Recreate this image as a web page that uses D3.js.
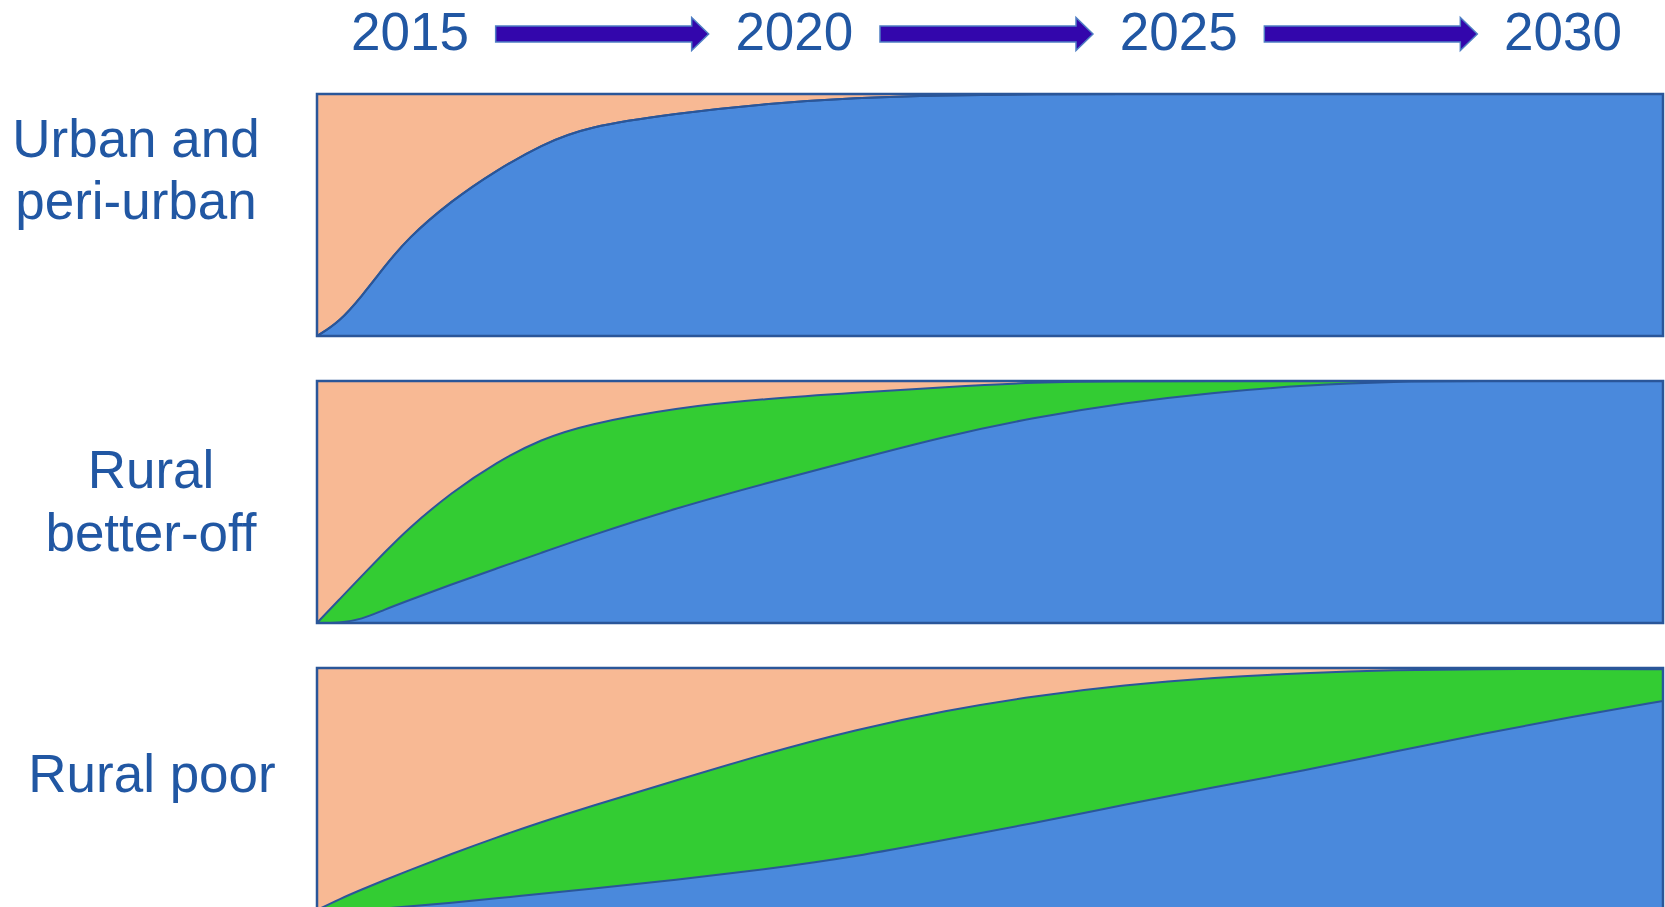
<!DOCTYPE html>
<html>
<head>
<meta charset="utf-8">
<script src="https://cdn.jsdelivr.net/npm/d3@7"></script>
<style>
  html, body { margin: 0; padding: 0; background: #ffffff; }
  svg { display: block; }
</style>
</head>
<body>
<svg id="chart" width="1665" height="907"></svg>
<script>
// ---------------- data ----------------
const categories = ["Urban and peri-urban", "Rural better-off", "Rural poor"];
const categoryLines = [["Urban and", "peri-urban"], ["Rural", "better-off"], ["Rural poor"]];
const yearLabels = ["2015", "2020", "2025", "2030"];

const years = [2015, 2015.25, 2015.5, 2015.75, 2016, 2016.5, 2017, 2017.5, 2018, 2019,
               2020, 2021, 2022, 2023, 2024, 2025, 2026, 2027, 2028, 2029, 2030];

// share of the blue band (bottom)
const urbanBlue = [0, 0.058, 0.165, 0.285, 0.40, 0.56, 0.685, 0.79, 0.865, 0.92,
                   0.96, 0.985, 0.995, 1, 1, 1, 1, 1, 1, 1, 1];
const urbanGreen = [0, 0, 0, 0, 0, 0, 0, 0, 0, 0, 0, 0, 0, 0, 0, 0, 0, 0, 0, 0, 0];

const betterBlue = [0, 0, 0.015, 0.055, 0.09, 0.16, 0.225, 0.29, 0.355, 0.475,
                    0.577, 0.675, 0.772, 0.85, 0.91, 0.953, 0.982, 0.999, 1, 1, 1];
const betterGreen = [0, 0.098, 0.18, 0.235, 0.295, 0.38, 0.44, 0.47, 0.465, 0.415,
                     0.35, 0.277, 0.203, 0.145, 0.09, 0.047, 0.018, 0.001, 0, 0, 0];

const poorBlue = [0, 0, 0, 0.006, 0.014, 0.03, 0.048, 0.067, 0.085, 0.124,
                  0.168, 0.22, 0.29, 0.36, 0.435, 0.508, 0.575, 0.655, 0.729, 0.80, 0.864];
const poorGreen = [0, 0.045, 0.085, 0.117, 0.146, 0.202, 0.252, 0.296, 0.338, 0.411,
                   0.479, 0.525, 0.535, 0.525, 0.495, 0.452, 0.405, 0.337, 0.267, 0.196, 0.131];

const blueSeries = [urbanBlue, betterBlue, poorBlue];
const greenSeries = [urbanGreen, betterGreen, poorGreen];

// ---------------- layout & style ----------------
const plotLeft = 317, plotRight = 1663;
const bandTop = 94, bandBottom = 910, bandGap = 45, bandStep = 287;
const headerLeft = 410, headerRight = 1563, headerBaseline = 50;
const labelAnchors = [{x: 136, y: 156.7}, {x: 151, y: 488.3}, {x: 152, y: 791.7}];
const labelLineHeight = 62.6;
const fontSize = 53;

const colBlue = "#4A89DC", colGreen = "#33CC33", colPeach = "#F8B994";
const colLine = "#2A5699", colText = "#2157A3";
const colArrow = "#3306AC", colArrowEdge = "#4F7FC4";

const svg = d3.select("#chart");

const x = d3.scaleLinear().domain([2015, 2030]).range([plotLeft, plotRight]);
const band = d3.scaleBand().domain(categories).range([bandTop, bandBottom])
  .paddingInner(bandGap / bandStep).paddingOuter(0);
const header = d3.scalePoint().domain(yearLabels).range([headerLeft, headerRight]);

// ---------------- header: years and arrows ----------------
svg.append("g").selectAll("text").data(yearLabels).join("text")
  .attr("x", d => header(d))
  .attr("y", headerBaseline)
  .attr("text-anchor", "middle")
  .attr("font-family", "'Liberation Sans', Arial, sans-serif")
  .attr("font-size", fontSize)
  .attr("fill", colText)
  .text(d => d);

const arrowLen = 213, shaftHalf = 8, headHalf = 16.5, headLen = 17, arrowY = 34;
const arrowPairs = d3.pairs(yearLabels);
svg.append("g").selectAll("path").data(arrowPairs).join("path")
  .attr("d", ([a, b]) => {
    const cx = (header(a) + header(b)) / 2;
    const x0 = cx - arrowLen / 2, x1 = cx + arrowLen / 2, xh = x1 - headLen;
    return `M${x0},${arrowY - shaftHalf}L${xh},${arrowY - shaftHalf}L${xh},${arrowY - headHalf}` +
           `L${x1},${arrowY}L${xh},${arrowY + headHalf}L${xh},${arrowY + shaftHalf}L${x0},${arrowY + shaftHalf}Z`;
  })
  .attr("fill", colArrow)
  .attr("stroke", colArrowEdge)
  .attr("stroke-width", 1.5);

// ---------------- row labels ----------------
const labels = svg.append("g").selectAll("text").data(categories).join("text")
  .attr("text-anchor", "middle")
  .attr("font-family", "'Liberation Sans', Arial, sans-serif")
  .attr("font-size", fontSize)
  .attr("fill", colText);
labels.each(function(d, i) {
  const t = d3.select(this);
  categoryLines[i].forEach((line, j) => {
    t.append("tspan")
      .attr("x", labelAnchors[i].x)
      .attr("y", labelAnchors[i].y + j * labelLineHeight)
      .text(line);
  });
});

// ---------------- panels ----------------
const defs = svg.append("defs");
const keys = ["blue", "green", "peach"];
const fills = {blue: colBlue, green: colGreen, peach: colPeach};
const curve = d3.curveBasis;

categories.forEach((cat, i) => {
  const top = band(cat), bottom = top + band.bandwidth();
  const y = d3.scaleLinear().domain([0, 1]).range([bottom, top]);

  const rows = years.map((yr, k) => {
    const b = blueSeries[i][k], g = greenSeries[i][k];
    return {year: yr, blue: b, green: g, peach: Math.max(0, 1 - b - g)};
  });
  const stacked = d3.stack().keys(keys)(rows);

  const clipId = "clip" + i;
  defs.append("clipPath").attr("id", clipId)
    .append("rect")
    .attr("x", plotLeft).attr("y", top)
    .attr("width", plotRight - plotLeft).attr("height", band.bandwidth());

  const g = svg.append("g").attr("clip-path", `url(#${clipId})`);

  g.append("rect")
    .attr("x", plotLeft).attr("y", top)
    .attr("width", plotRight - plotLeft).attr("height", band.bandwidth())
    .attr("fill", colPeach);

  // draw cumulative tops from the top layer down so each fill covers the one above it
  const tops = stacked.filter(s => s.key !== "peach").reverse();
  const area = d3.area()
    .x(d => x(d.data.year))
    .y0(bottom + 5)
    .y1(d => y(d[1]))
    .curve(curve);

  g.selectAll("path.area").data(tops).join("path")
    .attr("class", "area")
    .attr("d", area)
    .attr("fill", s => fills[s.key]);

  const line = d3.line()
    .x(d => x(d.data.year))
    .y(d => y(d[1]))
    .curve(curve);

  g.selectAll("path.edge").data(tops).join("path")
    .attr("class", "edge")
    .attr("d", line)
    .attr("fill", "none")
    .attr("stroke", colLine)
    .attr("stroke-width", 2);

  svg.append("rect")
    .attr("x", plotLeft).attr("y", top)
    .attr("width", plotRight - plotLeft).attr("height", band.bandwidth())
    .attr("fill", "none")
    .attr("stroke", colLine)
    .attr("stroke-width", 2.5);
});
</script>
</body>
</html>
